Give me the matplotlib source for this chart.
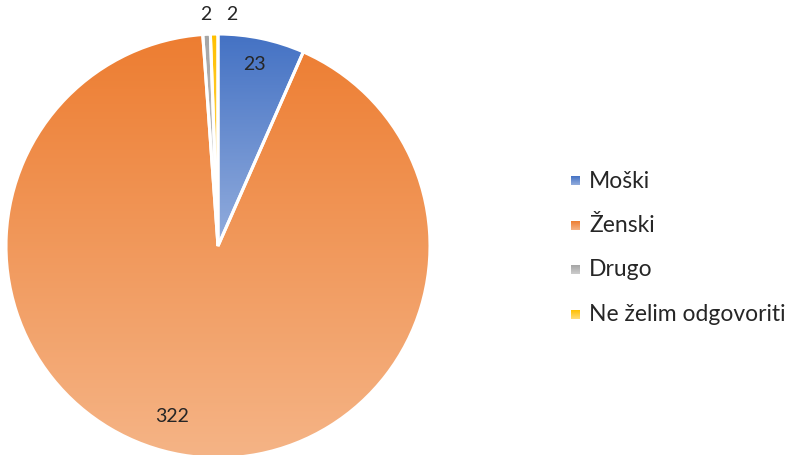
import numpy as np
import matplotlib.pyplot as plt
from matplotlib.colors import LinearSegmentedColormap

labels = ['Moški', 'Ženski', 'Drugo', 'Ne želim odgovoriti']
values = [23, 322, 2, 2]
top_colors = ['#4472C4', '#ED7D31', '#A5A5A5', '#FFC000']
bottom_colors = ['#93ADDD', '#F5B486', '#CDCDCD', '#FFDC7A']

W, H = 792, 455
plt.rcParams['font.family'] = ['Lato', 'DejaVu Sans']

fig = plt.figure(figsize=(W / 100, H / 100), dpi=100)
ax = fig.add_axes([0, 0, 1, 1])

cx, cy, r = 218, H - 246, 212
wedges, _ = ax.pie(values, startangle=90, counterclock=False,
                   center=(cx, cy), radius=r,
                   wedgeprops=dict(edgecolor='white', linewidth=2.2, facecolor='none'))
ax.set_xlim(0, W)
ax.set_ylim(0, H)
ax.set_aspect('equal')
ax.axis('off')

# vertical gradient fill clipped to each slice
grad = np.linspace(0, 1, 256).reshape(-1, 1)
for w, c0, c1 in zip(wedges, top_colors, bottom_colors):
    ext = w.get_path().get_extents()
    cmap = LinearSegmentedColormap.from_list('g', [c0, c1])
    im = ax.imshow(grad, cmap=cmap, aspect='auto', origin='upper',
                   extent=(ext.x0, ext.x1, ext.y0, ext.y1), zorder=1)
    im.set_clip_path(w)
    w.set_zorder(2)

# value labels
ax.text(254, H - 64, str(values[0]), ha='center', va='center', fontsize=14, color='#262626')
ax.text(172, H - 416, str(values[1]), ha='center', va='center', fontsize=14, color='#262626')
ax.text(206, H - 15, str(values[2]), ha='center', va='center', fontsize=14, color='#262626')
ax.text(232, H - 15, str(values[3]), ha='center', va='center', fontsize=14, color='#262626')

# legend
sq = 9
for i, (lab, c0, c1) in enumerate(zip(labels, top_colors, bottom_colors)):
    y = H - (181 + i * 44.5)
    cmap = LinearSegmentedColormap.from_list('g', [c0, c1])
    ax.imshow(grad, cmap=cmap, aspect='auto', origin='upper',
              extent=(571, 571 + sq, y - sq / 2, y + sq / 2), zorder=3)
    ax.text(589, y, lab, ha='left', va='center', fontsize=16.5, color='#262626')

ax.set_xlim(0, W)
ax.set_ylim(0, H)
fig.savefig('out.png', dpi=100)
